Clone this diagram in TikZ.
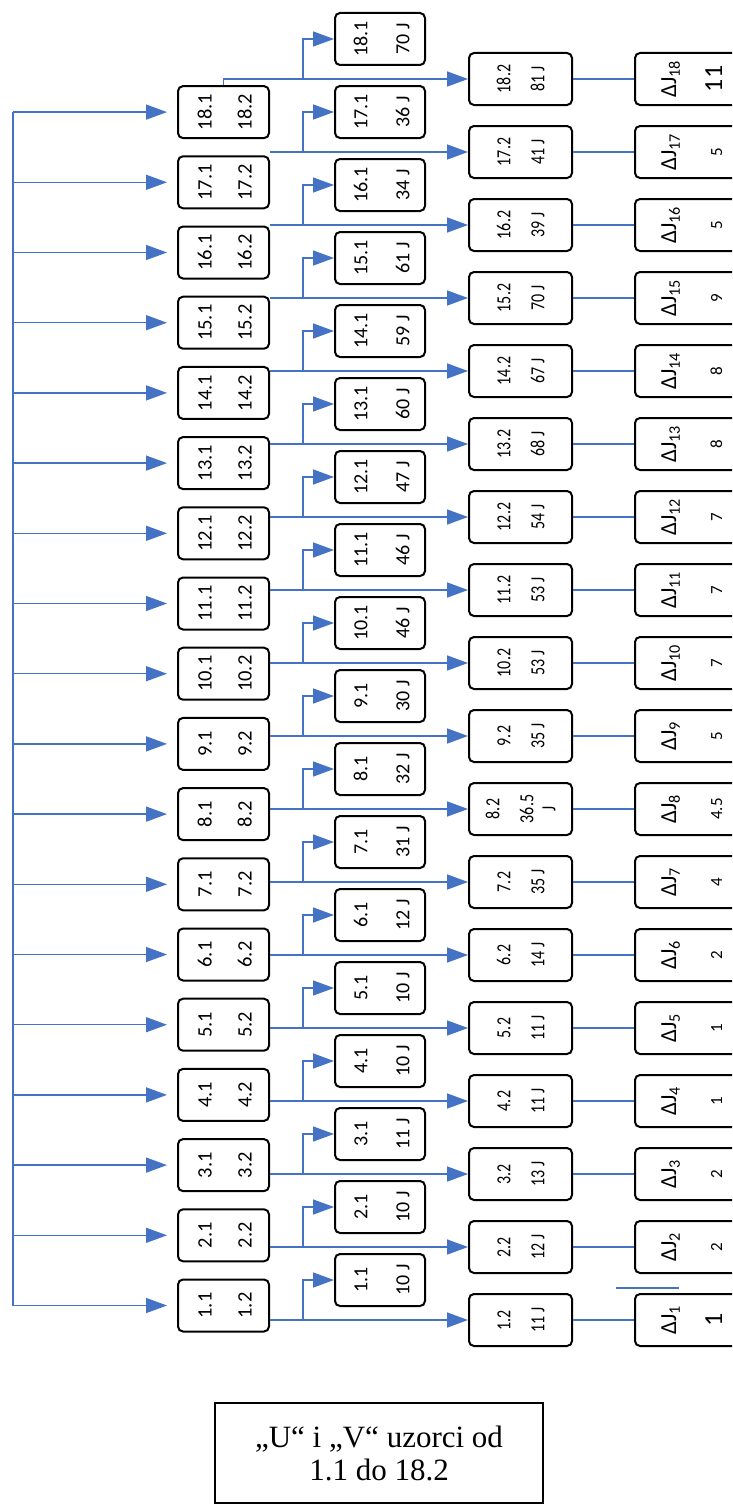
\documentclass[tikz,border=0pt]{standalone}
\usepackage{graphicx}
\usepackage{fontspec}
\setmainfont{Carlito}
\newfontfamily\timesfont{Liberation Serif}
\usetikzlibrary{arrows.meta}
\definecolor{lineblue}{HTML}{4472C4}
\newcommand{\twolines}[2]{\rotatebox{90}{\begin{tabular}{@{}c@{}}#1\\#2\end{tabular}}}
\newcommand{\narrowlines}[2]{\rotatebox{90}{\scalebox{0.8}[1]{\begin{tabular}{@{}c@{}}#1\\#2\end{tabular}}}}
\newcommand{\bigval}[1]{{\fontsize{26}{46}\selectfont #1}}

\begin{document}
\begin{tikzpicture}[x=1pt,y=-1pt,every node/.style={inner sep=0pt},
box/.style={draw,line width=2pt,rounded corners=5pt,minimum height=52pt},
lbox/.style={box,minimum width=91pt,font=\fontsize{20.5}{40}\selectfont},
mbox/.style={box,minimum width=90pt,font=\fontsize{20}{42}\selectfont},
rbox/.style={box,minimum width=103pt,font=\fontsize{20}{34}\selectfont},
dbox/.style={box,minimum width=110pt,font=\fontsize{23}{46}\selectfont},
link/.style={lineblue,line width=1.5pt},
thinlink/.style={lineblue,line width=1.2pt},
arr/.style={link,-{Triangle[length=21pt,width=15pt]}}]
\useasboundingbox (0,0) rectangle (732,1504);
\clip (0,0) rectangle (732,1504);
\foreach \i/\mj/\rj/\dv in {1/10/11 J/\bigval{1},2/10/12 J/2,3/11/13 J/2,4/10/11 J/1,5/10/11 J/1,6/12/14 J/2,7/31/35 J/4,8/32/{36.5\\[-12pt]J}/4.5,9/30/35 J/5,10/46/53 J/7,11/46/53 J/7,12/47/54 J/7,13/60/68 J/8,14/59/67 J/8,15/61/70 J/9,16/34/39 J/5,17/36/41 J/5,18/70/81 J/\bigval{11}}{
\pgfmathsetmacro\yl{1305.5-(\i-1)*70.2}
\pgfmathsetmacro\yr{1320-(\i-1)*73}
\node[lbox] (L\i) at (223.5,\yl) {\twolines{\i.1}{\i.2}};
\node[mbox] (M\i) at (380,\yr-40) {\twolines{\i.1}{\mj\ J}};
\node[rbox] (R\i) at (520.5,\yr) {\narrowlines{\i.2}{\rj}};
\node[dbox] (D\i) at (690,\yr) {\twolines{ΔJ\textsubscript{\i}}{\fontsize{17}{46}\selectfont\dv}};
\coordinate (s\i) at (13,\yl);
\coordinate (b\i) at (303,\yr);
\draw[arr,shorten >=10pt] (s\i) -- (L\i.west);
\ifnum\i=18 \draw[arr] (L\i.north) |- (R\i.west); \else \draw[arr] (L\i.east |- R\i.west) -- (R\i.west); \fi
\draw[arr] (b\i) |- (M\i.west);
\draw[thinlink] (R\i.east) -- (D\i.west);}
\draw[link] (s18) -- (s1);
\draw[thinlink] ([shift={(-18,-5)}]D1.north west) -- ++(63,0);
\node[draw,line width=1.5pt,minimum width=328pt,minimum height=100pt,align=center,font=\timesfont\fontsize{31}{33}\selectfont] (cap) at (379,1453) {„U“ i „V“ uzorci od\\1.1 do 18.2};
\end{tikzpicture}
\end{document}
